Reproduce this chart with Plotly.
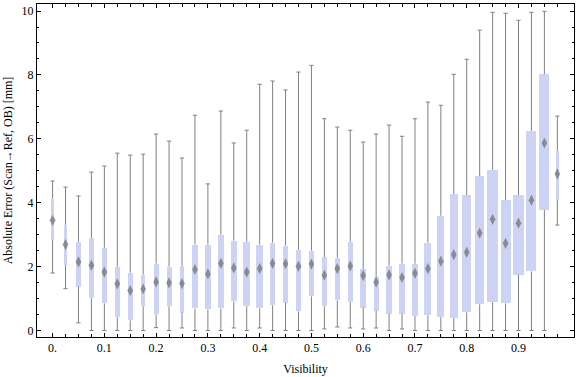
import plotly.graph_objects as go

visibility = [0.000, 0.025, 0.050, 0.075, 0.100, 0.125, 0.150, 0.175, 0.200, 0.225,
              0.250, 0.275, 0.300, 0.325, 0.350, 0.375, 0.400, 0.425, 0.450, 0.475,
              0.500, 0.525, 0.550, 0.575, 0.600, 0.625, 0.650, 0.675, 0.700, 0.725,
              0.750, 0.775, 0.800, 0.825, 0.850, 0.875, 0.900, 0.925, 0.950, 0.975]

whisker_low = [1.80, 1.31, 0.24, 0.00, 0.00, 0.00, 0.00, 0.00, 0.09, 0.00,
               0.08, 0.00, 0.00, 0.00, 0.08, 0.00, 0.08, 0.00, 0.00, 0.00,
               0.00, 0.05, 0.11, 0.08, 0.05, 0.08, 0.00, 0.05, 0.00, 0.00,
               0.00, 0.00, 0.00, 0.00, 0.00, 0.00, 0.00, 0.00, 0.00, 3.30]

q1 = [2.84, 2.05, 1.375, 1.01, 0.85, 0.42, 0.32, 0.76, 0.51, 0.76,
      0.56, 0.69, 0.66, 0.69, 0.91, 0.76, 0.69, 0.79, 0.875, 0.60,
      1.07, 0.76, 0.94, 0.89, 0.72, 0.625, 0.53, 0.53, 0.45, 0.48,
      0.42, 0.39, 0.57, 0.82, 0.89, 0.85, 1.75, 1.85, 3.78, 4.09]

median = [3.45, 2.69, 2.15, 2.04, 1.83, 1.46, 1.25, 1.30, 1.52, 1.49,
          1.47, 1.91, 1.77, 2.10, 1.96, 1.83, 1.94, 2.10, 2.09, 2.01,
          2.08, 1.73, 1.94, 2.02, 1.72, 1.51, 1.74, 1.66, 1.79, 1.94,
          2.17, 2.375, 2.45, 3.05, 3.48, 2.73, 3.36, 4.08, 5.87, 4.90]

q3 = [4.125, 3.31, 2.78, 2.90, 2.59, 1.99, 1.81, 1.75, 2.09, 2.00,
      2.03, 2.69, 2.69, 3.00, 2.81, 2.78, 2.69, 2.75, 2.66, 2.53,
      2.50, 2.30, 2.28, 2.78, 1.91, 1.67, 2.03, 2.09, 2.09, 2.75,
      3.59, 4.27, 4.24, 4.83, 5.03, 4.08, 4.24, 6.25, 8.02, 5.625]

whisker_high = [4.68, 4.49, 4.21, 4.96, 5.15, 5.55, 5.49, 5.52, 6.15, 5.93,
                5.40, 6.74, 4.59, 6.87, 5.87, 6.27, 7.71, 7.81, 7.53, 8.09,
                8.30, 6.63, 6.37, 6.27, 5.90, 6.15, 6.43, 6.08, 6.63, 7.15,
                7.05, 8.02, 8.49, 9.40, 9.96, 9.93, 9.71, 9.96, 9.99, 6.71]

# relative box widths (proportional to sample weight)
box_weight = [3, 3, 5, 5, 5, 5, 5, 4, 5, 5,
              4, 6, 6, 6, 6, 7, 7, 5, 5, 5,
              5, 5, 5, 5, 6, 5, 6, 6, 6, 7,
              7, 8, 9, 9, 11, 10, 11, 10, 10, 3]

x_tick_vals = [0.0, 0.1, 0.2, 0.3, 0.4, 0.5, 0.6, 0.7, 0.8, 0.9]
x_tick_text = ["0.", "0.1", "0.2", "0.3", "0.4", "0.5", "0.6", "0.7", "0.8", "0.9"]
y_tick_vals = [0, 2, 4, 6, 8, 10]

FONT = "Liberation Serif, Times New Roman, serif"
BOX_COLOR = "rgb(204,211,245)"
GRAY = "rgb(128,128,128)"
UNIT_PER_WEIGHT = 1.0 / 517.7

fig = go.Figure()

# boxes (interquartile range)
fig.add_trace(go.Bar(
    x=visibility,
    y=[b - a for a, b in zip(q1, q3)],
    base=q1,
    width=[w * UNIT_PER_WEIGHT for w in box_weight],
    marker=dict(color=BOX_COLOR, line=dict(width=0)),
    showlegend=False, hoverinfo="skip",
))

# whiskers (outside the box only)
wx, wy = [], []
for x, lo, a, b, hi in zip(visibility, whisker_low, q1, q3, whisker_high):
    wx += [x, x, None, x, x, None]
    wy += [lo, a, None, b, hi, None]
fig.add_trace(go.Scatter(
    x=wx, y=wy, mode="lines",
    line=dict(color=GRAY, width=1),
    showlegend=False, hoverinfo="skip",
))

# whisker caps
fig.add_trace(go.Scatter(
    x=visibility + visibility, y=whisker_low + whisker_high, mode="markers",
    marker=dict(symbol="line-ew", size=3, line=dict(color=GRAY, width=1)),
    showlegend=False, hoverinfo="skip",
))

# median diamonds
fig.add_trace(go.Scatter(
    x=visibility, y=median, mode="markers",
    marker=dict(symbol="diamond-tall", size=8, color="rgb(115,115,115)",
                opacity=0.75, line=dict(width=0)),
    showlegend=False, hoverinfo="skip",
))

fig.update_layout(
    width=576, height=377,
    margin=dict(l=37, r=2, t=4, b=40),
    paper_bgcolor="white", plot_bgcolor="white",
    font=dict(family=FONT, size=12, color="black"),
    bargap=0,
)

fig.update_xaxes(
    range=[-0.0301, 1.0072], showgrid=False, zeroline=False, automargin=False,
    showline=True, linecolor="black", linewidth=1, mirror="allticks",
    tickmode="array", tickvals=x_tick_vals, ticktext=x_tick_text,
    ticks="inside", ticklen=4, tickcolor="black", tickwidth=1,
    minor=dict(tickmode="array", tickvals=visibility, ticks="inside",
               ticklen=3, tickcolor="black", tickwidth=1, showgrid=False),
    tickfont=dict(family=FONT, size=12, color="black"),
    title=dict(text="Visibility", font=dict(family=FONT, size=12, color="black"),
               standoff=10),
)

fig.update_yaxes(
    range=[-0.203, 10.22], showgrid=False, zeroline=False, automargin=False,
    showline=True, linecolor="black", linewidth=1, mirror="allticks",
    tickmode="array", tickvals=y_tick_vals,
    ticks="inside", ticklen=4, tickcolor="black", tickwidth=1,
    minor=dict(dtick=0.5, tick0=0, ticks="inside", ticklen=2,
               tickcolor="black", tickwidth=1, showgrid=False),
    tickfont=dict(family=FONT, size=12, color="black"),
    title=dict(text="Absolute Error (Scan\u2192Ref, OB) [mm]",
               font=dict(family=FONT, size=12, color="black"), standoff=6),
)

fig.write_html("out.html", config={"displayModeBar": False},
               post_script="document.body.style.margin='0';")
